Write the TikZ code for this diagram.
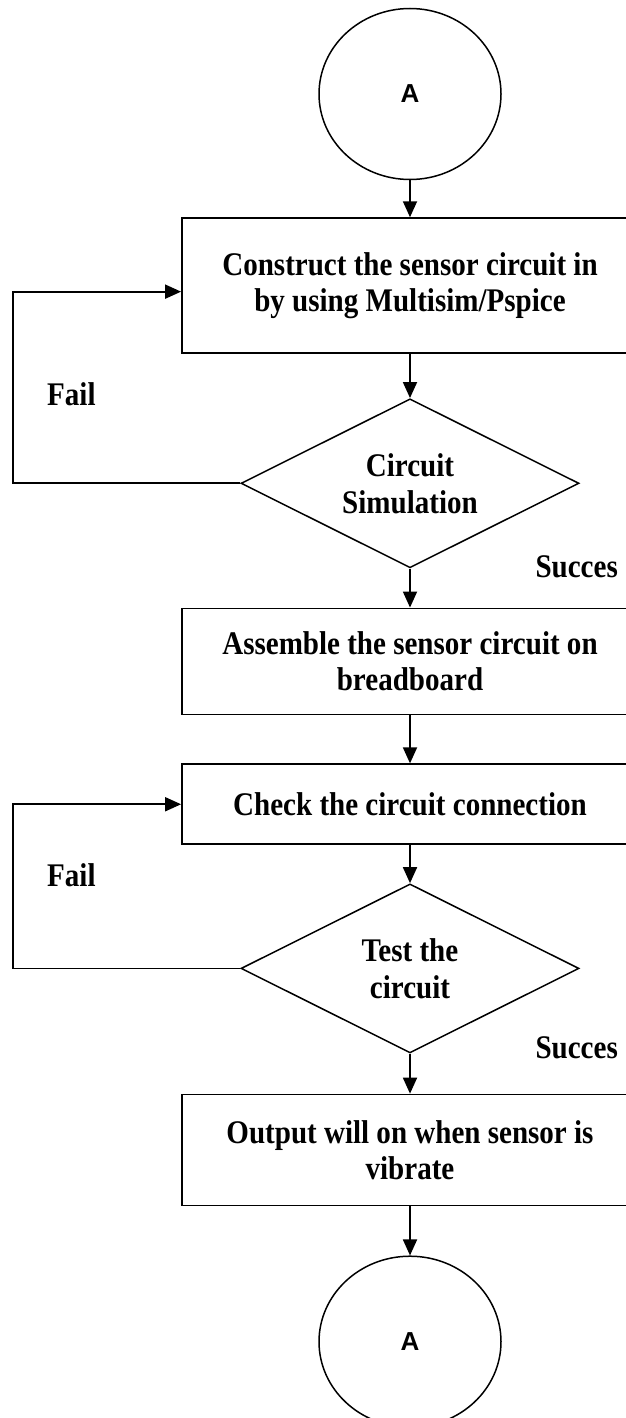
\documentclass[tikz,border=0pt]{standalone}
\usepackage{fontspec}
\setmainfont{Liberation Serif}[FakeStretch=0.88]
\newfontfamily\sansfam{Liberation Sans}
\usepackage{tikz}
\usetikzlibrary{shapes.geometric,positioning,arrows.meta}

\begin{document}
\begin{tikzpicture}[x=1pt,y=-1pt]
\tikzstyle{conn}=[ellipse, minimum width=182pt, minimum height=171pt, line width=1.5pt, draw=black, font=\sansfam\bfseries\fontsize{26}{30}\selectfont]
\tikzstyle{box}=[rectangle, draw=black, line width=1.8pt, minimum width=456pt, align=center, font=\bfseries\fontsize{33}{36}\selectfont]
\tikzstyle{decide}=[diamond, aspect=2, draw=black, line width=1.5pt, minimum width=338pt, minimum height=169pt, inner sep=0pt, align=center, font=\bfseries\fontsize{33}{37}\selectfont]
\tikzstyle{connect}=[-{Triangle[length=16pt,width=14pt]}, line width=1.8pt]
\tikzstyle{lbl}=[font=\bfseries\fontsize{33}{36}\selectfont, inner sep=0pt]
  \useasboundingbox (0,0) rectangle (626,1418);
  \clip (0,0) rectangle (626,1418);
  \node[conn] (startA) at (410,94) {A};
  \node[box, minimum height=135pt] (build) [below=37pt of startA] {Construct the sensor circuit in\\by using Multisim/Pspice};
  \node[decide] (simu) [below=44pt of build] {Circuit\\Simulation};
  \node[box, minimum height=106pt] (assemble) [below=39pt of simu] {Assemble the sensor circuit on\\breadboard};
  \node[box, minimum height=80pt] (check) [below=48pt of assemble] {Check the circuit connection};
  \node[decide] (test) [below=38pt of check] {Test the\\circuit};
  \node[box, minimum height=111pt] (output) [below=40pt of test] {Output will on when sensor is\\vibrate};
  \node[conn] (endA) [below=49pt of output] {A};
  % labels
  \node[lbl, anchor=base west] (fail1) at (47,405) {Fail};
  \node[lbl, anchor=base east] (ok1) at (618,577) {Succes};
  \node[lbl, anchor=base west] (fail2) at (47,886) {Fail};
  \node[lbl, anchor=base east] (ok2) at (618,1058) {Succes};
  \path (startA) edge [connect] (build)
        (build) edge [connect] (simu)
        (simu) edge [connect] (assemble)
        (assemble) edge [connect] (check)
        (check) edge [connect] (test)
        (test) edge [connect] (output)
        (output) edge [connect] (endA);
  % fail loops
  \coordinate (leftx) at (13,0);
  \draw[connect] (simu.west) -- (simu.west -| leftx) |- ([yshift=-6pt]build.west);
  \draw[connect] (test.west) -- (test.west -| leftx) |- (check.west);
\end{tikzpicture}
\end{document}
